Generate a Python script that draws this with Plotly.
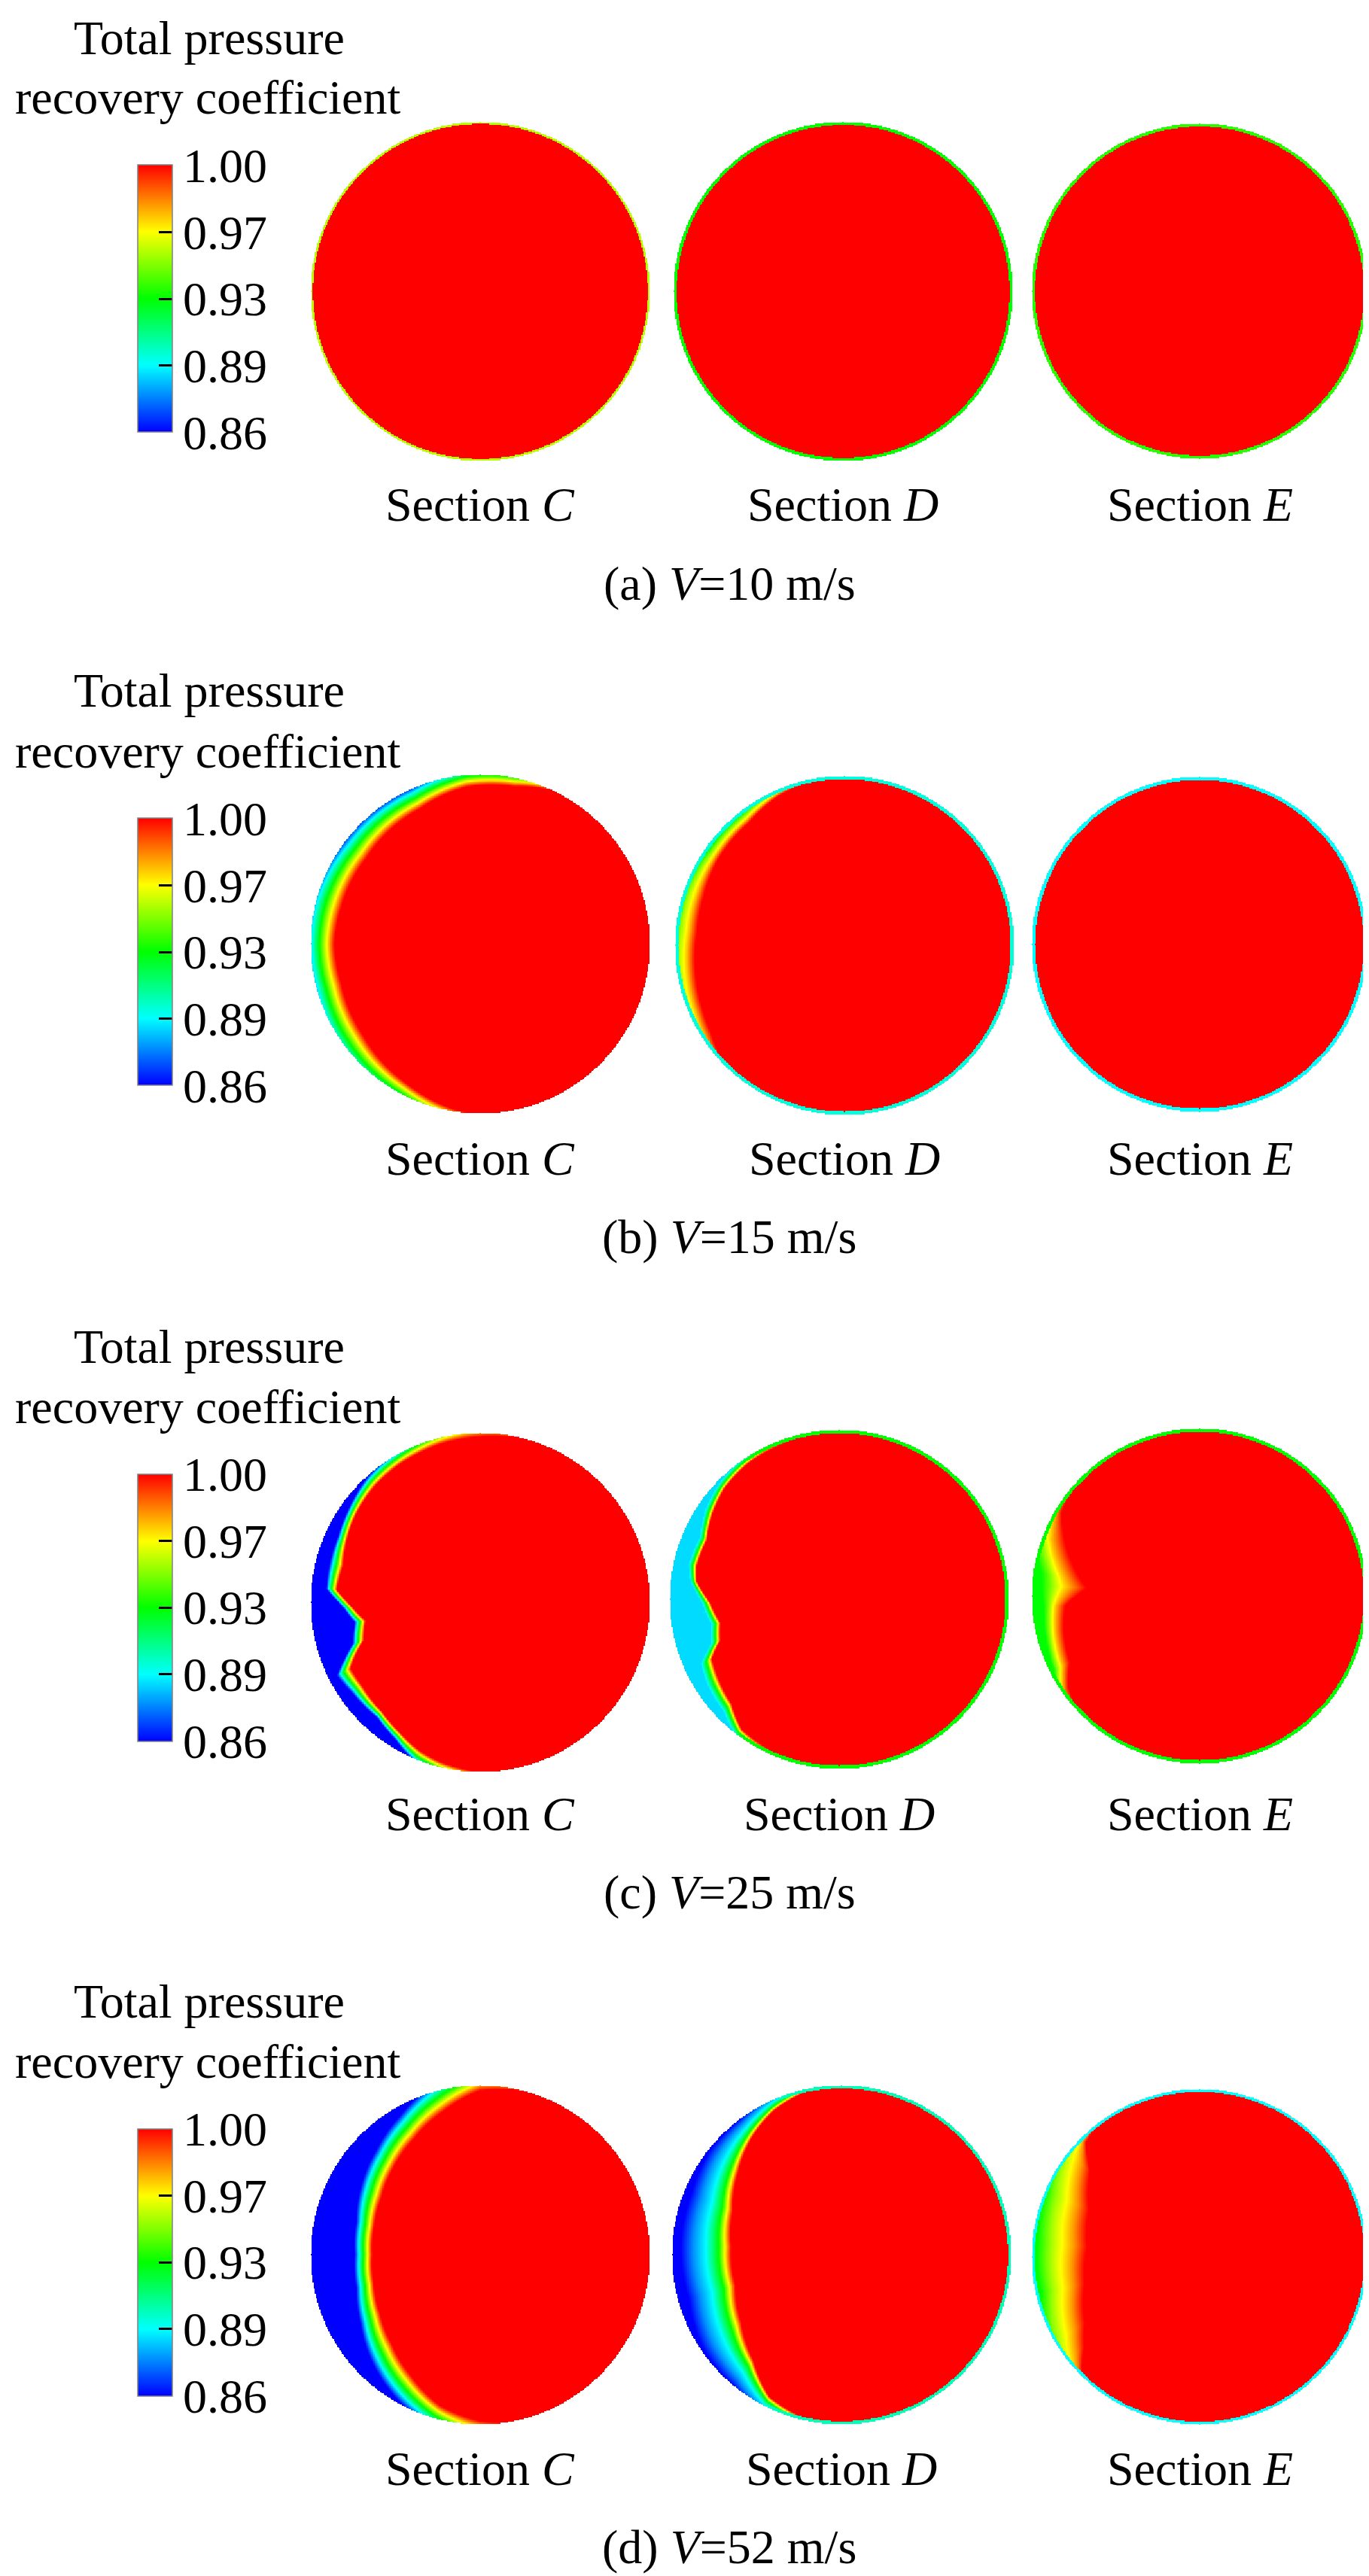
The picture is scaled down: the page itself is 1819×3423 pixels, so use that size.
import numpy as np
import plotly.graph_objects as go

FONT = "Liberation Serif"
W, H = 1819, 3423

# ---------------- text / scale data ----------------
PANEL_LETTERS = ["a", "b", "c", "d"]
SPEEDS = ["10", "15", "25", "52"]
SECTION_NAMES = ["C", "D", "E"]
CB_TITLE_1 = "Total pressure"
CB_TITLE_2 = "recovery coefficient"
CB_MIN, CB_MAX = 0.86, 1.00
CB_TICKVALS = [0.86, 0.895, 0.93, 0.965, 1.00]
CB_TICKTEXT = ["0.86", "0.89", "0.93", "0.97", "1.00"]
RAMP_T = [0.0, 0.25, 0.5, 0.75, 1.0]

# ---------------- field data ----------------
# Each section: angle around the disc (deg, 0 = right, 90 = top),
# radius where the red (1.00) core begins, radius where the low plateau ends,
# and the coefficient values across the transition band (plateau -> red).
none_phi = [0, 180]
none_red = [1.02, 1.02]
none_core = [1.10, 1.10]
none_ramp = [1.0, 1.0, 1.0, 1.0, 1.0]

# (b) V = 15 m/s
b_C_phi = [0, 65, 78, 95, 114, 143, 165, 180, 196, 217, 242, 260, 275]
b_C_red = [1.02, 1.00, 0.95, 0.93, 0.873, 0.84, 0.847, 0.86, 0.852, 0.874, 0.93, 0.985, 1.02]
b_C_core = [1.10, 1.08, 1.06, 1.05, 1.01, 1.015, 1.04, 1.04, 1.04, 1.06, 1.06, 1.10, 1.10]
b_C_ramp = [0.86, 0.895, 0.93, 0.965, 1.00]

b_D_phi = [0, 95, 114, 128, 145, 161, 175, 190, 204, 213, 222, 232]
b_D_red = [1.02, 1.00, 0.963, 0.917, 0.902, 0.879, 0.873, 0.893, 0.918, 0.94, 0.985, 1.02]
b_D_core = [1.10, 1.08, 1.02, 1.00, 1.00, 1.04, 1.05, 1.07, 1.08, 1.10, 1.10, 1.10]
b_D_ramp = [0.91, 0.935, 0.955, 0.975, 1.00]

# (c) V = 25 m/s
c_C_phi = [0, 75, 92, 104, 113, 120, 125, 132, 145, 155, 165, 175, 182, 189, 198,
           203, 207, 215, 228, 238, 248, 256, 270, 285]
c_C_red = [1.02, 1.00, 0.975, 0.963, 0.95, 0.943, 0.935, 0.925, 0.897, 0.868, 0.836, 0.849,
           0.755, 0.684, 0.722, 0.80, 0.857, 0.852, 0.866, 0.90, 0.945, 0.97, 1.00, 1.02]
c_C_core = [1.10, 1.08, 1.12, 1.07, 1.04, 1.02, 1.01, 0.995, 0.952, 0.925, 0.918, 0.912,
            0.81, 0.75, 0.792, 0.876, 0.95, 0.926, 0.912, 0.95, 1.02, 1.05, 1.10, 1.10]
c_C_ramp = [0.86, 0.895, 0.93, 0.965, 1.00]

c_D_phi = [0, 95, 110, 124, 136, 146, 156, 167, 173, 181.5, 191, 199, 205, 213, 224, 233, 244, 255]
c_D_red = [1.02, 1.00, 0.975, 0.965, 0.941, 0.901, 0.855, 0.863, 0.846, 0.760, 0.714, 0.742,
           0.828, 0.851, 0.884, 0.958, 0.975, 1.00]
c_D_core = [1.10, 1.08, 1.05, 1.012, 0.985, 0.952, 0.90, 0.912, 0.886, 0.81, 0.769, 0.80,
            0.90, 0.928, 0.95, 1.014, 1.06, 1.08]
c_D_ramp = [0.89, 0.91, 0.93, 0.965, 1.00]

c_E_phi = [0, 135, 149, 159, 172, 176, 184, 194, 207, 215, 228]
c_E_red = [1.02, 1.00, 0.96, 0.854, 0.717, 0.672, 0.80, 0.834, 0.868, 0.954, 1.02]
c_E_core = [1.10, 1.08, 1.05, 1.06, 0.95, 0.945, 0.93, 0.95, 0.976, 1.04, 1.10]
c_E_ramp = [0.93, 0.95, 0.97, 0.985, 1.00]

# (d) V = 52 m/s
d_C_phi = [0, 75, 90, 105, 120, 135, 150, 165, 180, 195, 210, 225, 240, 255, 270, 285]
d_C_red = [1.02, 1.00, 0.97, 0.87, 0.786, 0.724, 0.673, 0.647, 0.637, 0.65, 0.684, 0.739,
           0.82, 0.92, 0.98, 1.02]
d_C_core = [1.10, 1.10, 1.15, 1.05, 0.947, 0.87, 0.812, 0.757, 0.741, 0.757, 0.815, 0.90,
            0.983, 1.06, 1.15, 1.10]
d_C_ramp = [0.86, 0.895, 0.93, 0.965, 1.00]

d_D_phi = [0, 95, 105, 115, 127, 142, 158, 176, 196, 214, 230, 243, 255, 265]
d_D_red = [1.02, 1.00, 0.975, 0.94, 0.872, 0.776, 0.691, 0.651, 0.65, 0.713, 0.809, 0.939, 0.98, 1.02]
d_D_core = [1.10, 1.08, 1.06, 1.03, 1.00, 0.99, 0.956, 0.95, 0.937, 0.985, 1.00, 1.05, 1.08, 1.10]
d_D_ramp = [0.86, 0.88, 0.895, 0.93, 1.00]

d_E_phi = [0, 125, 135, 142, 157, 175, 193, 210, 218, 224, 232]
d_E_red = [1.02, 1.00, 0.96, 0.827, 0.717, 0.673, 0.703, 0.79, 0.873, 0.976, 1.02]
d_E_core = [1.10, 1.08, 1.04, 1.08, 1.00, 0.97, 0.97, 1.05, 1.10, 1.10, 1.10]
d_E_ramp = [0.93, 0.95, 0.965, 0.98, 1.00]

# wall rim value (thin ring at the pipe wall) per row, sections C, D, E
rim_val_a = [0.955, 0.93, 0.935]
rim_val_b = [1.00, 0.90, 0.895]
rim_val_c = [1.00, 0.93, 0.93]
rim_val_d = [1.00, 0.905, 0.895]
rim_w_a = [0.012, 0.018, 0.018]
rim_w_b = [0.0, 0.02, 0.02]
rim_w_c = [0.0, 0.02, 0.02]
rim_w_d = [0.0, 0.018, 0.016]

# ---------------- assemble ----------------
fields = [
    [(none_phi, none_red, none_core, none_ramp)] * 3,
    [(b_C_phi, b_C_red, b_C_core, b_C_ramp), (b_D_phi, b_D_red, b_D_core, b_D_ramp),
     (none_phi, none_red, none_core, none_ramp)],
    [(c_C_phi, c_C_red, c_C_core, c_C_ramp), (c_D_phi, c_D_red, c_D_core, c_D_ramp),
     (c_E_phi, c_E_red, c_E_core, c_E_ramp)],
    [(d_C_phi, d_C_red, d_C_core, d_C_ramp), (d_D_phi, d_D_red, d_D_core, d_D_ramp),
     (d_E_phi, d_E_red, d_E_core, d_E_ramp)],
]
rim_vals = [rim_val_a, rim_val_b, rim_val_c, rim_val_d]
rim_ws = [rim_w_a, rim_w_b, rim_w_c, rim_w_d]

# layout positions (pixels): disc centres and radius
CENTERS = [
    [(630, 379), (1112, 379), (1586, 379)],
    [(630, 1246), (1114, 1248), (1586, 1247)],
    [(630, 2121), (1107, 2117), (1586, 2113)],
    [(630, 2988), (1110, 2988), (1586, 2991)],
]
RADII = [225, 225, 223]
ROW_CY = [379, 1247, 2118, 2988]

COLORSCALE = [[0.0, "rgb(0,0,255)"], [0.25, "rgb(0,255,255)"], [0.5, "rgb(0,255,0)"],
              [0.75, "rgb(255,255,0)"], [1.0, "rgb(255,0,0)"]]

N = 301
g = np.linspace(-1, 1, N)
GX, GY = np.meshgrid(g, g)
GR = np.hypot(GX, GY)
GPHI = np.degrees(np.arctan2(GY, GX)) % 360


def build_field(phi, red, core, ramp, rim_v, rim_w):
    rr = np.interp(GPHI, phi, red, period=360)
    rc = np.interp(GPHI, phi, core, period=360)
    t = np.clip((rc - GR) / (rc - rr), 0, 1)
    z = np.interp(t, RAMP_T, ramp)
    ring = GR > (1 - rim_w)
    z = np.where(ring, np.minimum(z, rim_v), z)
    z = np.where(GR > 1.0, np.nan, z)
    return z.astype(np.float32)


fig = go.Figure()
layout = dict(width=W, height=H, margin=dict(l=0, r=0, t=0, b=0),
              paper_bgcolor="white", plot_bgcolor="rgba(0,0,0,0)", showlegend=False)
annotations = []

k = 0
for ri in range(4):
    cax = "coloraxis" if ri == 0 else f"coloraxis{ri + 1}"
    cy_row = ROW_CY[ri]
    layout[cax] = dict(
        colorscale=COLORSCALE, cmin=CB_MIN, cmax=CB_MAX,
        colorbar=dict(
            x=175 / W, xanchor="left", xref="paper",
            y=1 - (cy_row + 10) / H, yanchor="middle", yref="paper",
            len=355, lenmode="pixels", thickness=46, thicknessmode="pixels",
            xpad=0, ypad=0, outlinewidth=1.5, outlinecolor="#808080",
            tickvals=CB_TICKVALS, ticktext=CB_TICKTEXT,
            ticks="inside", ticklen=18, tickwidth=3, tickcolor="black",
            tickfont=dict(family=FONT, size=64, color="black"),
        ),
    )
    for ci in range(3):
        k += 1
        cx, cy = CENTERS[ri][ci]
        r = RADII[ci]
        phi, red, core, ramp = fields[ri][ci]
        z = build_field(phi, red, core, ramp, rim_vals[ri][ci], rim_ws[ri][ci])
        xa = "x" if k == 1 else f"x{k}"
        ya = "y" if k == 1 else f"y{k}"
        fig.add_trace(go.Heatmap(
            x=g, y=g, z=z, coloraxis=cax, xaxis=xa, yaxis=ya,
            zsmooth=False, hoverinfo="skip", showscale=(ci == 0),
        ))
        xk = "xaxis" if k == 1 else f"xaxis{k}"
        yk = "yaxis" if k == 1 else f"yaxis{k}"
        layout[xk] = dict(domain=[(cx - r) / W, (cx + r) / W], range=[-1, 1],
                          visible=False, fixedrange=True, anchor=ya)
        layout[yk] = dict(domain=[1 - (cy + r) / H, 1 - (cy - r) / H], range=[-1, 1],
                          visible=False, fixedrange=True, anchor=xa)
        annotations.append(dict(
            text=f"Section <i>{SECTION_NAMES[ci]}</i>", x=cx / W, y=1 - (cy_row + 284) / H,
            xref="paper", yref="paper", xanchor="center", yanchor="middle",
            showarrow=False, font=dict(family=FONT, size=64, color="black")))
    annotations.append(dict(
        text=CB_TITLE_1, x=270 / W, y=1 - (cy_row - 337) / H,
        xref="paper", yref="paper", xanchor="center", yanchor="middle",
        showarrow=False, font=dict(family=FONT, size=64, color="black")))
    annotations.append(dict(
        text=CB_TITLE_2, x=268 / W, y=1 - (cy_row - 257) / H,
        xref="paper", yref="paper", xanchor="center", yanchor="middle",
        showarrow=False, font=dict(family=FONT, size=64, color="black")))
    annotations.append(dict(
        text=f"({PANEL_LETTERS[ri]}) <i>V</i>={SPEEDS[ri]} m/s", x=961 / W,
        y=1 - (cy_row + 388) / H,
        xref="paper", yref="paper", xanchor="center", yanchor="middle",
        showarrow=False, font=dict(family=FONT, size=64, color="black")))

layout["annotations"] = annotations
fig.update_layout(**layout)
fig.write_html("out.html")
